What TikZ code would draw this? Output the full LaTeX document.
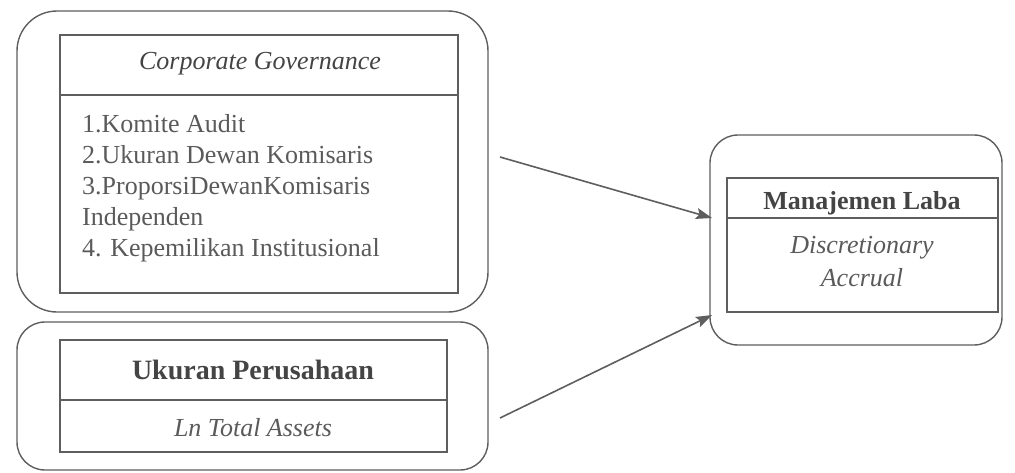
\documentclass[tikz,border=0pt]{standalone}
\usepackage{fontspec}
\setmainfont{Liberation Serif}
\usetikzlibrary{arrows.meta}
\definecolor{ink}{HTML}{5A5A5A}
\definecolor{dark}{HTML}{444444}
\definecolor{line}{HTML}{5E5E5E}
\tikzset{
  outerbox/.style={draw=line, line width=1.4pt, rounded corners=#1, inner sep=0pt},
  innerbox/.style={draw=line, line width=1.8pt, inner sep=0pt},
  divider/.style={draw=line, line width=1.8pt},
  itemtxt/.style={anchor=base west, inner sep=0pt, text=ink, font=\fontsize{26}{31}\selectfont},
  headtxt/.style={inner sep=0pt, text=dark, font=\fontsize{26}{31}\selectfont},
  subtxt/.style={inner sep=0pt, text=ink, font=\fontsize{26}{31}\selectfont\itshape},
  arr/.style={draw=line, line width=1.6pt, -{Stealth[length=16pt,width=11pt,inset=3pt]}}
}
\begin{document}
\begin{tikzpicture}[x=1pt,y=1pt]
\useasboundingbox (0,0) rectangle (1015,-472);
% Box 1
\node[outerbox=40pt, minimum width=471pt, minimum height=301pt] (o1) at (252.5,-161.5) {};
\node[innerbox, minimum width=398pt, minimum height=258pt] (b1) at (259,-164) {};
\draw[divider] (60,-95) -- (458,-95);
\node[headtxt, font=\fontsize{26}{31}\selectfont\itshape] (h1) at (260,-64) {Corporate Governance};
\node[itemtxt] (i1) at (82,-132) {1.Komite Audit};
\node[itemtxt] (i2) at (82,-163) {2.Ukuran Dewan Komisaris};
\node[itemtxt] (i3) at (82,-194) {3.ProporsiDewanKomisaris};
\node[itemtxt] (i4) at (82,-225) {Independen};
\node[itemtxt] (i5) at (82,-256) {4. Kepemilikan Institusional};
% Box 2
\node[outerbox=28pt, minimum width=471pt, minimum height=148pt] (o2) at (252.5,-396) {};
\node[innerbox, minimum width=387pt, minimum height=112pt] (b2) at (253.5,-396) {};
\draw[divider] (60,-400) -- (447,-400);
\node[headtxt, font=\fontsize{28}{31}\selectfont\bfseries] (h2) at (253,-370) {Ukuran Perusahaan};
\node[subtxt] (s2) at (253,-428) {Ln Total Assets};
% Box 3
\node[outerbox=28pt, minimum width=292pt, minimum height=210pt] (o3) at (856,-240) {};
\node[innerbox, minimum width=271pt, minimum height=134pt] (b3) at (862.5,-245) {};
\draw[divider] (727,-218) -- (998,-218);
\node[headtxt, font=\fontsize{26}{31}\selectfont\bfseries] (h3) at (862,-203) {Manajemen Laba};
\node[subtxt] (s3a) at (862,-248) {Discretionary};
\node[subtxt] (s3b) at (862,-278) {Accrual};
% Arrows
\coordinate (a1s) at (500,-157);
\coordinate (a1e) at (712,-218);
\coordinate (a2s) at (500,-418);
\coordinate (a2e) at (712,-315);
\draw[arr] (a1s) -- (a1e);
\draw[arr] (a2s) -- (a2e);
\end{tikzpicture}
\end{document}
